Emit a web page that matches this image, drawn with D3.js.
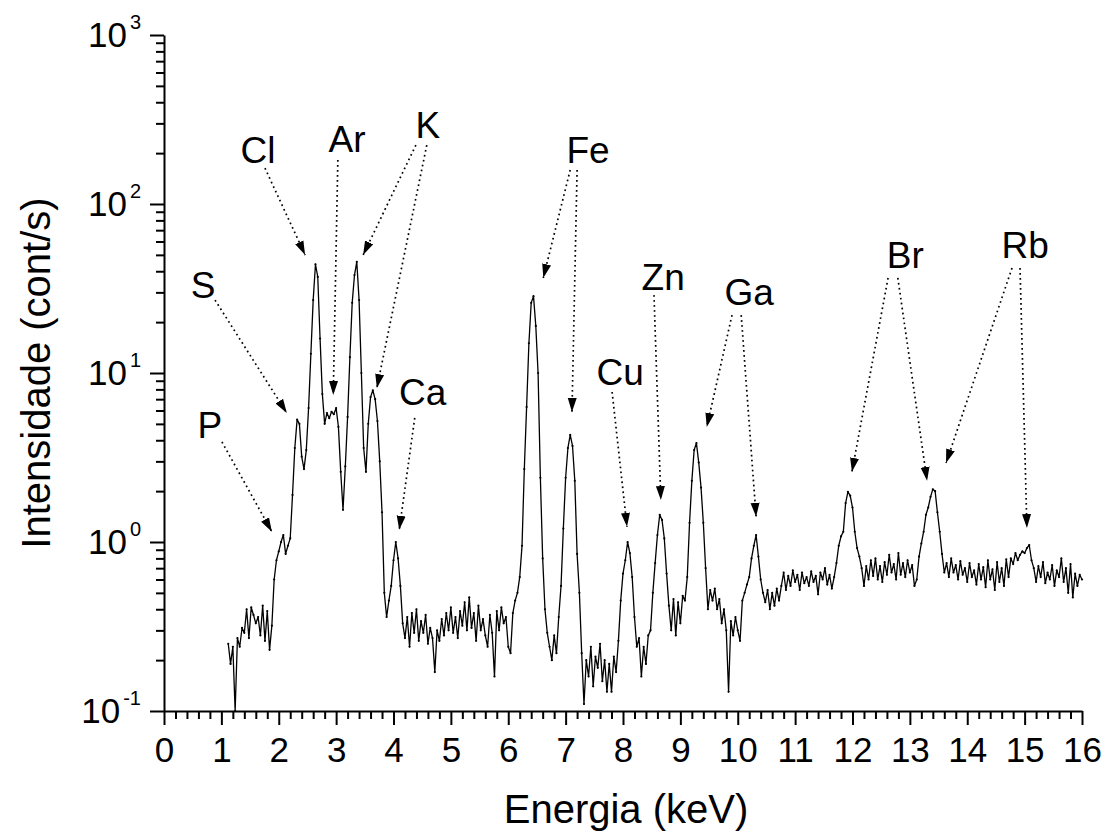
<!DOCTYPE html>
<html>
<head>
<meta charset="utf-8">
<script src="https://cdn.jsdelivr.net/npm/d3@7"></script>
<style>
  body { margin: 0; background: #fff; }
  svg { display: block; font-family: Arial, 'Liberation Sans', sans-serif; }
</style>
</head>
<body>
<svg id="chart"></svg>
<script>
// spectrum: counts per second, one value every 0.04 keV starting at 1.12 keV
const energyStart = 1.12
const energyStep = 0.04
const intensity = [
  0.25, 0.19, 0.24, 0.10, 0.27, 0.24, 0.31, 0.29, 0.40, 0.27, 0.41, 0.37, 0.33, 0.36, 0.28, 0.42, 0.26, 0.39, 0.23, 0.32, 0.60, 0.78, // 1.12 - 1.96
  0.88, 1.0, 1.1, 0.85, 0.95, 1.05, 1.9, 3.6, 5.3, 5.0, 3.2, 2.7, 3.5, 6.2, 13, 27, 44, 37, 16, 7.5, 5.0, 5.8, 5.4, 5.9, 5.7, // 2.00 - 2.96
  6.2, 4.8, 2.6, 1.55, 2.8, 5.5, 12.4, 26, 38, 45.5, 27, 10, 3.6, 2.6, 5.0, 7.2, 7.9, 7.0, 5.2, 3.0, 1.5, 0.5, 0.36, 0.45, 0.55, // 3.00 - 3.96
  0.78, 1.0, 0.8, 0.55, 0.33, 0.27, 0.36, 0.24, 0.38, 0.29, 0.40, 0.26, 0.34, 0.29, 0.37, 0.25, 0.31, 0.27, 0.17, 0.30, 0.26, 0.35, 0.28, 0.38, 0.30, // 4.00 - 4.96
  0.41, 0.29, 0.36, 0.27, 0.39, 0.32, 0.44, 0.30, 0.47, 0.31, 0.38, 0.26, 0.42, 0.30, 0.35, 0.28, 0.24, 0.37, 0.29, 0.16, 0.39, 0.30, 0.41, 0.33, 0.36, // 5.00 - 5.96
  0.24, 0.22, 0.38, 0.45, 0.5, 0.62, 0.95, 2.7, 6.3, 15, 26, 28.5, 19, 10, 2.4, 0.8, 0.4, 0.29, 0.24, 0.20, 0.28, 0.22, 0.36, 0.55, 1.2, // 6.00 - 6.96
  2.4, 3.6, 4.3, 3.7, 2.3, 0.85, 0.5, 0.22, 0.11, 0.2, 0.16, 0.24, 0.14, 0.21, 0.18, 0.25, 0.15, 0.20, 0.13, 0.19, 0.13, 0.21, 0.17, 0.26, 0.45, // 7.00 - 7.96
  0.65, 0.78, 1.0, 0.86, 0.62, 0.36, 0.24, 0.27, 0.16, 0.24, 0.19, 0.28, 0.30, 0.5, 0.75, 1.1, 1.45, 1.35, 1.05, 0.65, 0.42, 0.30, 0.46, 0.28, 0.44, // 8.00 - 8.96
  0.33, 0.48, 0.45, 0.62, 1.3, 2.3, 3.5, 3.85, 2.95, 2.1, 1.3, 0.7, 0.4, 0.52, 0.45, 0.53, 0.40, 0.46, 0.33, 0.40, 0.30, 0.13, 0.34, 0.28, 0.36, // 9.00 - 9.96
  0.30, 0.26, 0.45, 0.5, 0.56, 0.62, 0.8, 0.95, 1.1, 0.82, 0.6, 0.5, 0.44, 0.52, 0.40, 0.50, 0.42, 0.53, 0.45, 0.55, 0.66, 0.52, 0.63, 0.55, 0.68, // 10.00 - 10.96
  0.58, 0.64, 0.52, 0.66, 0.57, 0.62, 0.55, 0.67, 0.58, 0.63, 0.49, 0.66, 0.60, 0.70, 0.56, 0.64, 0.53, 0.62, 0.75, 0.95, 1.08, 1.15, 1.7, 1.98, 1.88, // 11.00 - 11.96
  1.6, 1.15, 0.92, 0.82, 0.7, 0.55, 0.72, 0.60, 0.78, 0.63, 0.80, 0.60, 0.72, 0.58, 0.76, 0.64, 0.84, 0.66, 0.74, 0.60, 0.86, 0.64, 0.75, 0.62, 0.78, // 12.00 - 12.96
  0.66, 0.73, 0.55, 0.6, 0.82, 0.98, 1.15, 1.45, 1.6, 1.85, 2.05, 2.0, 1.5, 1.15, 0.85, 0.66, 0.75, 0.62, 0.80, 0.66, 0.73, 0.60, 0.77, 0.64, 0.70, // 13.00 - 13.96
  0.58, 0.75, 0.62, 0.68, 0.56, 0.74, 0.60, 0.71, 0.54, 0.78, 0.60, 0.69, 0.52, 0.76, 0.58, 0.70, 0.55, 0.79, 0.62, 0.80, 0.74, 0.86, 0.78, 0.84, 0.88, // 14.00 - 14.96
  0.86, 0.92, 0.96, 0.78, 0.70, 0.58, 0.72, 0.62, 0.76, 0.57, 0.66, 0.60, 0.73, 0.55, 0.68, 0.62, 0.80, 0.58, 0.70, 0.50, 0.74, 0.47, 0.65, 0.55, 0.64, 0.60 // 15.00 - 16.00
]

const xTicks = d3.range(0, 17)
const yExponents = [-1, 0, 1, 2, 3]

// element labels, placed in data units (keV, cont/s)
const peakLabels = [
  { name: 'P', e: 0.80, i: 4.12 },
  { name: 'S', e: 0.68, i: 27.8 },
  { name: 'Cl', e: 1.64, i: 175 },
  { name: 'Ar', e: 3.19, i: 203 },
  { name: 'K', e: 4.60, i: 246 },
  { name: 'Ca', e: 4.51, i: 6.47 },
  { name: 'Fe', e: 7.39, i: 175 },
  { name: 'Cu', e: 7.95, i: 8.49 },
  { name: 'Zn', e: 8.70, i: 31.0 },
  { name: 'Ga', e: 10.20, i: 25.3 },
  { name: 'Br', e: 12.92, i: 41.8 },
  { name: 'Rb', e: 15.01, i: 47.9 }
]

const peakArrows = [
  { from: [1.01, 3.91], to: [1.88, 1.15] },
  { from: [0.89, 27.0], to: [2.14, 5.80] },
  { from: [1.76, 163], to: [2.46, 49.9] },
  { from: [3.03, 182], to: [2.95, 7.41] },
  { from: [4.39, 223], to: [3.47, 49.9] },
  { from: [4.58, 223], to: [3.71, 8.15] },
  { from: [4.37, 5.42], to: [4.10, 1.18] },
  { from: [7.08, 159], to: [6.61, 36.5] },
  { from: [7.20, 159], to: [7.11, 5.88] },
  { from: [7.81, 7.72], to: [8.07, 1.23] },
  { from: [8.54, 28.9], to: [8.66, 1.77] },
  { from: [9.90, 22.0], to: [9.46, 4.79] },
  { from: [10.06, 22.0], to: [10.32, 1.41] },
  { from: [12.62, 36.5], to: [11.99, 2.60] },
  { from: [12.79, 36.5], to: [13.30, 2.30] },
  { from: [14.78, 41.8], to: [13.63, 2.93] },
  { from: [14.92, 41.8], to: [15.04, 1.21] }
]

const width = 1106
const height = 834
const svg = d3.select('#chart').attr('width', width).attr('height', height)

const x = d3.scaleLinear().domain([0, 16]).range([164, 1082])
const y = d3.scaleLog().domain([0.1, 1000]).range([711, 35])

const spectrum = intensity.map((v, k) => ({ e: energyStart + k * energyStep, i: v }))

// Arrowhead
svg.append('defs')
  .append('marker')
  .attr('id', 'head')
  .attr('markerUnits', 'userSpaceOnUse')
  .attr('markerWidth', 16)
  .attr('markerHeight', 12)
  .attr('viewBox', '0 -6 16 12')
  .attr('refX', 14)
  .attr('refY', 0)
  .attr('orient', 'auto')
  .append('path')
  .attr('d', 'M0,-4.5L14,0L0,4.5Z')
  .attr('fill', 'black')

// Minor x ticks
const xMinor = d3.range(0, 16.001, 0.2).filter(v => Math.abs(v - Math.round(v)) > 0.01)
svg.append('g')
  .attr('transform', 'translate(0,711)')
  .call(d3.axisBottom(x).tickValues(xMinor).tickSize(8).tickSizeOuter(0).tickFormat(''))
  .call(g => g.select('.domain').remove())
  .call(g => g.selectAll('line').attr('stroke-width', 2))

// Major x ticks
const xAxis = svg.append('g')
  .attr('transform', 'translate(0,711)')
  .call(d3.axisBottom(x).tickValues(xTicks).tickSize(14).tickSizeOuter(0).tickFormat(d3.format('d')))
xAxis.select('.domain').attr('stroke-width', 2)
xAxis.selectAll('line').attr('stroke-width', 2)
xAxis.selectAll('text')
  .attr('y', 51)
  .attr('dy', 0)
  .attr('font-size', 35)
  .attr('font-family', 'Arial, Liberation Sans, sans-serif')
  .attr('fill', 'black')

// Minor y ticks
const yMinor = []
yExponents.slice(0, -1).forEach(p => {
  d3.range(2, 10).forEach(m => yMinor.push(m * Math.pow(10, p)))
})
svg.append('g')
  .attr('transform', 'translate(164,0)')
  .call(d3.axisLeft(y).tickValues(yMinor).tickSize(8).tickSizeOuter(0).tickFormat(''))
  .call(g => g.select('.domain').remove())
  .call(g => g.selectAll('line').attr('stroke-width', 2))

// Major y ticks
const yAxis = svg.append('g')
  .attr('transform', 'translate(164,0)')
  .call(d3.axisLeft(y).tickValues(yExponents.map(p => Math.pow(10, p))).tickSize(14).tickSizeOuter(0).tickFormat(''))
yAxis.select('.domain').attr('stroke-width', 2)
yAxis.selectAll('line').attr('stroke-width', 2)

const yLabels = svg.selectAll('text.ylab')
  .data(yExponents)
  .enter()
  .append('text')
  .attr('class', 'ylab')
  .attr('x', 141)
  .attr('y', p => y(Math.pow(10, p)) + 12)
  .attr('text-anchor', 'end')
yLabels.append('tspan').attr('font-size', 35).text('10')
yLabels.append('tspan').attr('font-size', 20).attr('dx', 3).attr('dy', -18).text(p => p)

// Axis titles
svg.append('text')
  .attr('x', 626)
  .attr('y', 823)
  .attr('text-anchor', 'middle')
  .attr('font-size', 40)
  .text('Energia (keV)')

svg.append('text')
  .attr('transform', 'translate(50,373) rotate(-90)')
  .attr('text-anchor', 'middle')
  .attr('font-size', 40)
  .text('Intensidade (cont/s)')

// Spectrum
const line = d3.line()
  .x(d => x(d.e))
  .y(d => y(Math.max(d.i, 0.1)))

svg.append('path')
  .datum(spectrum)
  .attr('d', line)
  .attr('fill', 'none')
  .attr('stroke', 'black')
  .attr('stroke-width', 1.3)
  .attr('stroke-linejoin', 'round')

svg.selectAll('circle.pt')
  .data(spectrum)
  .enter()
  .append('circle')
  .attr('class', 'pt')
  .attr('cx', d => x(d.e))
  .attr('cy', d => y(Math.max(d.i, 0.1)))
  .attr('r', 1.1)
  .attr('fill', 'black')

// Dotted arrows to the peaks
svg.selectAll('line.arrow')
  .data(peakArrows)
  .enter()
  .append('line')
  .attr('class', 'arrow')
  .attr('x1', d => x(d.from[0]))
  .attr('y1', d => y(d.from[1]))
  .attr('x2', d => x(d.to[0]))
  .attr('y2', d => y(d.to[1]))
  .attr('stroke', 'black')
  .attr('stroke-width', 1.7)
  .attr('stroke-dasharray', '1.7,3.3')
  .attr('marker-end', 'url(#head)')

// Element labels
svg.selectAll('text.peak')
  .data(peakLabels)
  .enter()
  .append('text')
  .attr('class', 'peak')
  .attr('x', d => x(d.e))
  .attr('y', d => y(d.i))
  .attr('text-anchor', 'middle')
  .attr('font-size', 37)
  .text(d => d.name)
</script>
</body>
</html>
